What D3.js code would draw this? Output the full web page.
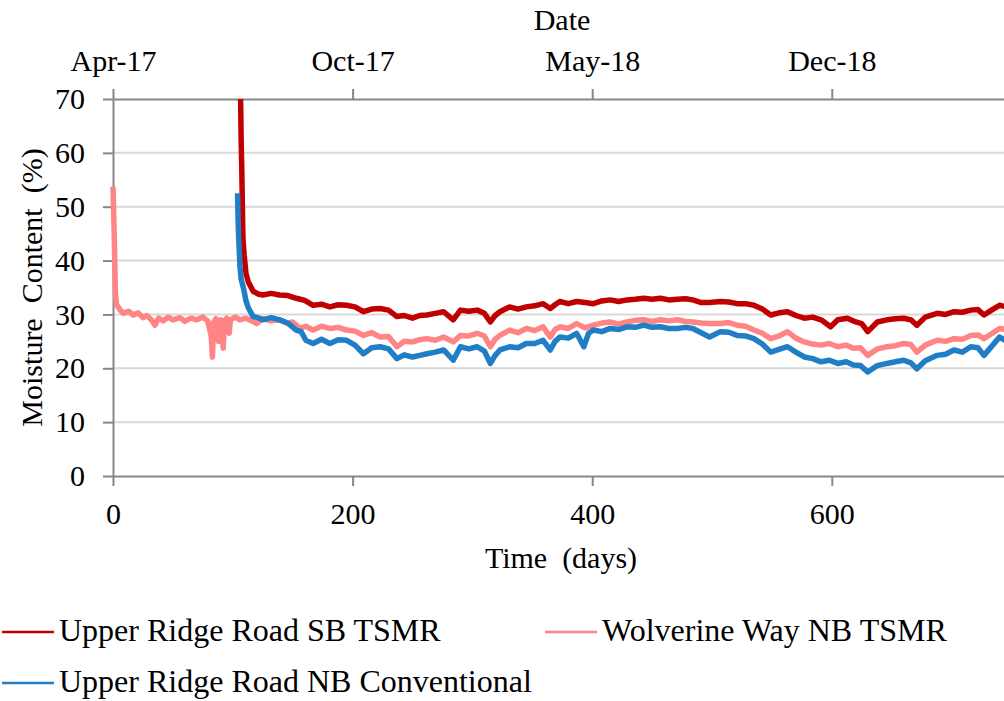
<!DOCTYPE html>
<html>
<head>
<meta charset="utf-8">
<script src="https://cdn.jsdelivr.net/npm/d3@7"></script>
<style>
  html, body { margin: 0; padding: 0; background: #fff; }
  svg { display: block; font-family: "Liberation Serif", "Times New Roman", serif; }
  text { white-space: pre; }
</style>
</head>
<body>
<svg id="chart" width="1004" height="701"></svg>
<script>
// series values (day, moisture %)
const sbTsmrDays = [106.5, 107, 107.5, 108, 108.5, 109.5, 111, 113, 117, 121, 125, 132, 139, 146, 153, 160, 167, 174, 181, 188, 195, 202, 209, 216, 223, 230, 237, 243, 250, 256, 262, 269, 276, 284, 290, 297, 304, 310, 315, 319, 323, 331, 338, 345, 352, 359, 365, 369, 373, 380, 387, 394, 401, 408, 415, 422, 429, 436, 443, 450, 457, 464, 471, 478, 484, 491, 498, 507, 514, 521, 528, 535, 542, 549, 556, 563, 570, 577, 584, 591, 599, 605, 613, 620, 625, 630, 638, 646, 653, 660, 666, 671, 678, 688, 695, 702, 709, 716, 722, 727, 734, 740, 746, 750];
const sbTsmrValues = [70, 62, 57, 50, 44, 41, 37.6, 36, 34.3, 33.8, 33.6, 33.9, 33.6, 33.5, 33.0, 32.6, 31.7, 31.9, 31.4, 31.8, 31.7, 31.4, 30.5, 31.0, 31.1, 30.8, 29.6, 29.8, 29.3, 29.8, 29.9, 30.2, 30.5, 29.0, 30.8, 30.6, 30.8, 30.2, 28.6, 29.8, 30.5, 31.4, 31.0, 31.4, 31.6, 32.0, 31.1, 31.8, 32.4, 32.0, 32.4, 32.2, 32.0, 32.5, 32.7, 32.4, 32.7, 32.8, 33.0, 32.8, 33.0, 32.7, 32.8, 32.9, 32.7, 32.2, 32.2, 32.4, 32.3, 32.0, 32.0, 31.7, 31.0, 29.9, 30.3, 30.5, 29.8, 29.3, 29.5, 29.0, 27.7, 29.0, 29.3, 28.6, 28.3, 26.8, 28.6, 29.0, 29.2, 29.3, 29.0, 28.0, 29.5, 30.2, 30.0, 30.5, 30.4, 30.8, 30.9, 29.9, 30.9, 31.7, 31.4, 31.8];

const wolvDays = [0, 1, 2, 3, 6, 9, 13, 17, 21, 25, 28, 32, 35, 38, 42, 46, 50, 56, 60, 65, 70, 75, 79, 82, 83, 84, 86, 88, 90, 92, 93, 95, 97, 98, 102, 106, 111, 116, 120, 125, 132, 139, 146, 150, 156, 161, 167, 174, 181, 188, 195, 202, 209, 216, 223, 230, 237, 243, 250, 256, 262, 269, 276, 284, 290, 297, 304, 310, 315, 319, 323, 331, 338, 345, 352, 359, 365, 369, 373, 380, 387, 394, 401, 408, 415, 422, 429, 436, 443, 450, 457, 464, 471, 478, 484, 491, 498, 507, 514, 521, 528, 535, 542, 549, 556, 563, 570, 577, 584, 591, 598, 605, 612, 618, 624, 630, 638, 646, 653, 660, 666, 671, 678, 688, 695, 702, 709, 716, 722, 727, 734, 740, 746, 750];
const wolvValues = [53.7, 45, 34, 31.8, 30.8, 30.2, 30.6, 29.9, 30.3, 29.4, 29.8, 29.0, 28.0, 29.3, 28.8, 29.5, 29.0, 29.4, 28.7, 29.3, 29.0, 29.5, 28.8, 26.0, 22.1, 28.5, 29.2, 25.0, 29.0, 23.7, 28.8, 29.3, 26.5, 29.0, 29.5, 29.0, 29.3, 28.8, 28.3, 29.2, 28.8, 29.0, 28.3, 28.6, 27.4, 27.8, 27.1, 27.8, 27.4, 27.6, 27.1, 26.9, 26.1, 26.6, 25.8, 25.9, 24.0, 25.0, 24.9, 25.3, 25.5, 25.2, 25.8, 24.9, 26.1, 26.0, 26.5, 26.0, 24.0, 25.4, 26.1, 27.1, 26.6, 27.4, 27.0, 27.7, 25.8, 27.2, 27.7, 27.4, 28.3, 27.5, 28.0, 28.4, 28.6, 28.2, 28.6, 28.9, 29.0, 28.7, 29.0, 28.8, 29.0, 28.7, 28.6, 28.4, 28.3, 28.3, 28.5, 28.0, 27.8, 27.1, 26.5, 25.5, 26.0, 26.8, 25.6, 24.9, 24.5, 24.3, 24.6, 24.0, 24.3, 23.7, 23.8, 22.4, 23.6, 24.0, 24.2, 24.6, 24.4, 23.0, 24.3, 25.2, 25.0, 25.5, 25.4, 26.1, 26.2, 25.5, 26.5, 27.4, 27.2, 27.6];

const nbConvDays = [104, 104.5, 105, 106, 107, 109, 111, 113, 117, 121, 125, 132, 139, 146, 153, 157, 161, 167, 174, 181, 188, 195, 202, 209, 216, 223, 230, 237, 243, 250, 256, 262, 269, 276, 284, 290, 297, 304, 310, 315, 319, 323, 331, 338, 345, 352, 359, 365, 369, 373, 380, 387, 393, 397, 401, 408, 415, 422, 429, 436, 443, 450, 457, 464, 471, 478, 484, 491, 498, 507, 514, 521, 528, 535, 542, 549, 556, 563, 570, 577, 584, 591, 598, 605, 612, 618, 624, 630, 638, 646, 653, 660, 666, 671, 678, 688, 695, 702, 709, 716, 722, 727, 734, 740, 746, 750];
const nbConvValues = [52.5, 47, 43.8, 38.9, 36.5, 34.8, 32.5, 31.2, 29.6, 29.4, 29.0, 29.4, 29.0, 28.4, 27.1, 26.8, 25.2, 24.6, 25.4, 24.6, 25.3, 25.2, 24.3, 22.7, 23.8, 24.0, 23.6, 21.8, 22.5, 22.1, 22.4, 22.7, 23.0, 23.4, 21.5, 24.0, 23.6, 24.0, 23.2, 20.9, 22.4, 23.4, 24.0, 23.8, 24.6, 24.6, 25.2, 23.4, 25.0, 25.8, 25.6, 26.5, 24.0, 26.5, 27.1, 26.8, 27.4, 27.2, 27.7, 27.6, 28.0, 27.6, 27.7, 27.4, 27.4, 27.6, 27.4, 26.6, 25.8, 26.8, 26.7, 26.1, 26.0, 25.5, 24.5, 23.0, 23.5, 24.0, 23.0, 22.1, 21.8, 21.2, 21.5, 20.9, 21.2, 20.6, 20.5, 19.3, 20.5, 20.9, 21.2, 21.5, 21.0, 19.9, 21.4, 22.4, 22.6, 23.4, 23.0, 24.0, 23.8, 22.4, 24.2, 25.8, 25.0, 25.5];

const seriesNames = ["Upper Ridge Road SB TSMR", "Wolverine Way NB TSMR", "Upper Ridge Road NB Conventional"];
const seriesColors = ["#c00000", "#ff8585", "#1f7ec6"];

const dayTicks = [0, 200, 400, 600];
const dateTickLabels = ["Apr-17", "Oct-17", "May-18", "Dec-18"];
const moistureTicks = [0, 10, 20, 30, 40, 50, 60, 70];

const series = [
  { name: seriesNames[0], color: seriesColors[0], points: sbTsmrDays.map((d, i) => [d, sbTsmrValues[i]]) },
  { name: seriesNames[1], color: seriesColors[1], points: wolvDays.map((d, i) => [d, wolvValues[i]]) },
  { name: seriesNames[2], color: seriesColors[2], points: nbConvDays.map((d, i) => [d, nbConvValues[i]]) }
];

// plot box in pixels; right side runs past the picture edge like the source
const plotLeft = 113, plotTop = 99, plotBottom = 476, plotRight = 1011.5;
const axisGrey = "#878787";

const svg = d3.select("#chart");

const x = d3.scaleLinear().domain([0, 750]).range([plotLeft, plotRight]);
const y = d3.scaleLinear().domain([0, 70]).range([plotBottom, plotTop]);

// horizontal gridlines
svg.append("g")
   .selectAll("line")
   .data(moistureTicks.filter(v => v > 0 && v < 70))
   .enter().append("line")
   .attr("x1", plotLeft).attr("x2", plotRight)
   .attr("y1", d => y(d)).attr("y2", d => y(d))
   .attr("stroke", "#d9d9d9")
   .attr("stroke-width", 2);

let styleAxis = (g) => {
    g.select(".domain").attr("stroke", axisGrey).attr("stroke-width", 2);
    g.selectAll(".tick line").attr("stroke", axisGrey).attr("stroke-width", 2);
    g.selectAll(".tick text")
     .attr("fill", "#000")
     .style("font-family", '"Liberation Serif", "Times New Roman", serif')
     .style("font-size", "30px");
};

// left axis
svg.append("g")
   .attr("transform", `translate(${plotLeft},0)`)
   .call(d3.axisLeft(y).tickValues(moistureTicks).tickSize(10).tickSizeOuter(0).tickPadding(18))
   .call(styleAxis);

// bottom axis
svg.append("g")
   .attr("transform", `translate(0,${plotBottom})`)
   .call(d3.axisBottom(x).tickValues(dayTicks).tickSize(10).tickSizeOuter(0).tickPadding(17))
   .call(styleAxis);

// top (date) axis, same tick spots as the day axis
svg.append("g")
   .attr("transform", `translate(0,${plotTop})`)
   .call(d3.axisTop(x).tickValues(dayTicks).tickFormat((d, i) => dateTickLabels[i])
           .tickSize(10).tickSizeOuter(0).tickPadding(18))
   .call(styleAxis);

// series lines, drawn in legend order so blue sits on top
let line = d3.line().x(d => x(d[0])).y(d => y(d[1]));

svg.append("g")
   .selectAll("path")
   .data(series)
   .enter().append("path")
   .attr("d", d => line(d.points))
   .attr("fill", "none")
   .attr("stroke", d => d.color)
   .attr("stroke-width", 5.5)
   .attr("stroke-linejoin", "round");

// axis titles
svg.append("text")
   .attr("x", 562).attr("y", 30)
   .attr("text-anchor", "middle")
   .style("font-size", "30px")
   .text("Date");

svg.append("text")
   .attr("x", 561).attr("y", 568)
   .attr("text-anchor", "middle")
   .style("font-size", "30px")
   .text("Time  (days)");

svg.append("text")
   .attr("transform", `translate(42,${(plotTop + plotBottom) / 2}) rotate(-90)`)
   .attr("text-anchor", "middle")
   .style("font-size", "30px")
   .text("Moisture  Content  (%)");

// legend
const legendSpots = [[2, 632], [545, 632], [2, 683]];
let legend = svg.append("g")
   .selectAll("g")
   .data(series)
   .enter().append("g")
   .attr("transform", (d, i) => `translate(${legendSpots[i][0]},${legendSpots[i][1]})`);

legend.append("line")
      .attr("x1", 0).attr("x2", 52)
      .attr("stroke", d => d.color)
      .attr("stroke-width", 2.5);

legend.append("text")
      .attr("x", 57).attr("y", 9)
      .style("font-size", "32px")
      .text(d => d.name);
</script>
</body>
</html>
